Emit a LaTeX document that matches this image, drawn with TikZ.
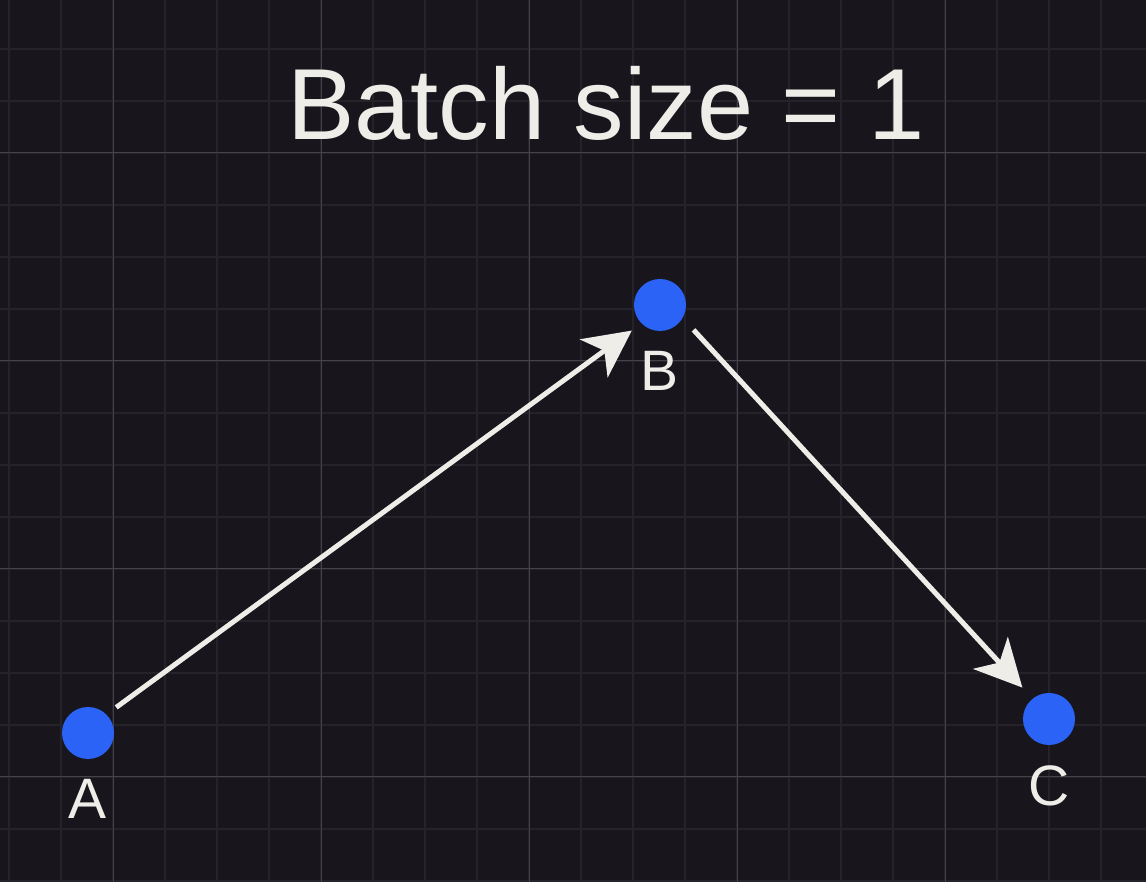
\documentclass[tikz,border=0pt]{standalone}
\usepackage{fontspec}
\setmainfont{Liberation Sans}
\usetikzlibrary{arrows.meta}
\definecolor{sfondo}{HTML}{18161C}
\definecolor{griglia}{HTML}{25232A}
\definecolor{grigliaforte}{HTML}{45434A}
\definecolor{testo}{HTML}{EEEDE8}
\definecolor{blu}{HTML}{2B63F6}
\begin{document}
\begin{tikzpicture}[x=1pt, y=1pt,
		punto/.style={circle, fill=blu, minimum size=52pt, inner sep=0pt},
		etichetta/.style={text=testo, inner sep=0pt, yshift=-20pt, font=\fontsize{57}{60}\selectfont},
		freccia/.style={-{Stealth[length=47pt, width=47pt, inset=13pt]}, line width=5pt, draw=testo, shorten <=12pt, shorten >=12pt}]
			% Sfondo e griglia
			\fill[sfondo] (0,0) rectangle (1146,882);
			\useasboundingbox (0,0) rectangle (1146,882);
			\foreach \x in {9,61,...,1145} \draw[griglia, line width=1.2pt] (\x,0) -- (\x,882);
			\foreach \y in {1,53,...,882} \draw[griglia, line width=1.2pt] (0,\y) -- (1146,\y);
			\foreach \x in {113,321,...,1145} \draw[grigliaforte, line width=1pt] (\x,0) -- (\x,882);
			\foreach \y in {105,313,...,882} \draw[grigliaforte, line width=1pt] (0,\y) -- (1146,\y);
			
			% Titolo
			\node[text=testo, anchor=base, font=\fontsize{101}{106}\selectfont] (titolo) at (606,742) {Batch size = 1};
			
			% Punti
			\node[punto, label={[etichetta]below:A}] (A) at (88,149) {};
			\node[punto, label={[etichetta]below:B}] (B) at (660,577) {};
			\node[punto, label={[etichetta]below:C}] (C) at (1049,163) {};
			
			% Passi
			\draw[freccia] (A.45) -- (B.225);
			\draw[freccia, shorten <=16pt, shorten >=15pt] (B.-30) -- (C.129);
		\end{tikzpicture}
\end{document}
